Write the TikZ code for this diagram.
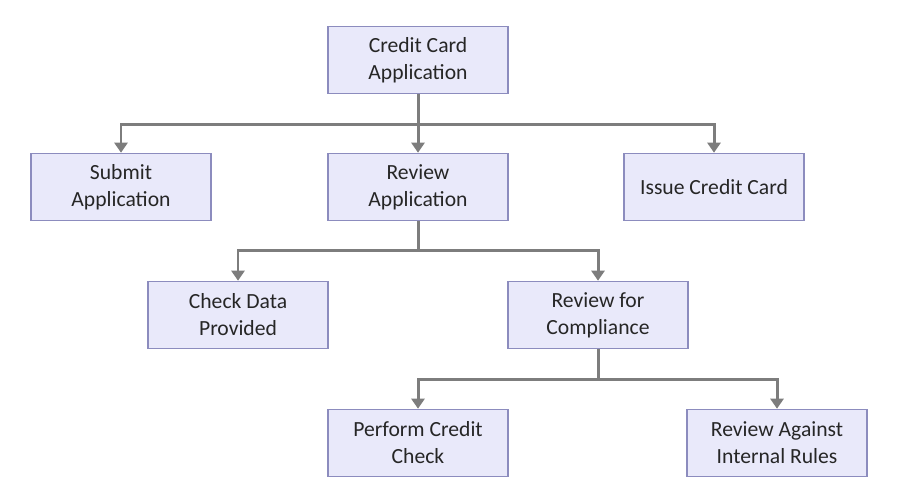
\documentclass[tikz,border=0pt]{standalone}
\usepackage{fontspec}
\setmainfont{Carlito}
\usepackage{xcolor}
\usetikzlibrary{arrows.meta,positioning,calc}
\definecolor{boxfill}{RGB}{233,233,250}
\definecolor{boxline}{RGB}{140,140,190}
\definecolor{linkgray}{RGB}{125,125,125}

\begin{document}
\begin{tikzpicture}[
    task/.style={draw=boxline, fill=boxfill, line width=0.9pt, minimum width=3.6cm, minimum height=1.34cm, align=center, inner sep=0pt, text=black!85, font=\fontsize{12.3}{15.3}\selectfont},
    link/.style={draw=linkgray, line width=1.7pt, -{Triangle[length=0.2cm,width=0.26cm]}}
]
    \useasboundingbox (0,0) rectangle (18.02,-10.08);
    % top level
    \node[task] (app) at (8.36,-1.2) {Credit Card\\Application};
    % second level
    \node[task] (submit) at (2.42,-3.74) {Submit\\Application};
    \node[task] (review) at (8.36,-3.74) {Review\\Application};
    \node[task] (issue) at (14.28,-3.74) {Issue Credit Card};
    % third level
    \node[task] (check) at (4.76,-6.3) {Check Data\\Provided};
    \node[task] (comply) at (11.96,-6.3) {Review for\\Compliance};
    % fourth level
    \node[task] (credit) at (8.36,-8.86) {Perform Credit\\Check};
    \node[task] (rules) at (15.54,-8.86) {Review Against\\Internal Rules};
    % connectors
    \draw[link] (app.south) -- ++(0,-0.6) -| (submit.north);
    \draw[link] (app.south) -- (review.north);
    \draw[link] (app.south) -- ++(0,-0.6) -| (issue.north);
    \draw[link] (review.south) -- ++(0,-0.58) -| (check.north);
    \draw[link] (review.south) -- ++(0,-0.58) -| (comply.north);
    \draw[link] (comply.south) -- ++(0,-0.6) -| (credit.north);
    \draw[link] (comply.south) -- ++(0,-0.6) -| (rules.north);
\end{tikzpicture}
\end{document}
